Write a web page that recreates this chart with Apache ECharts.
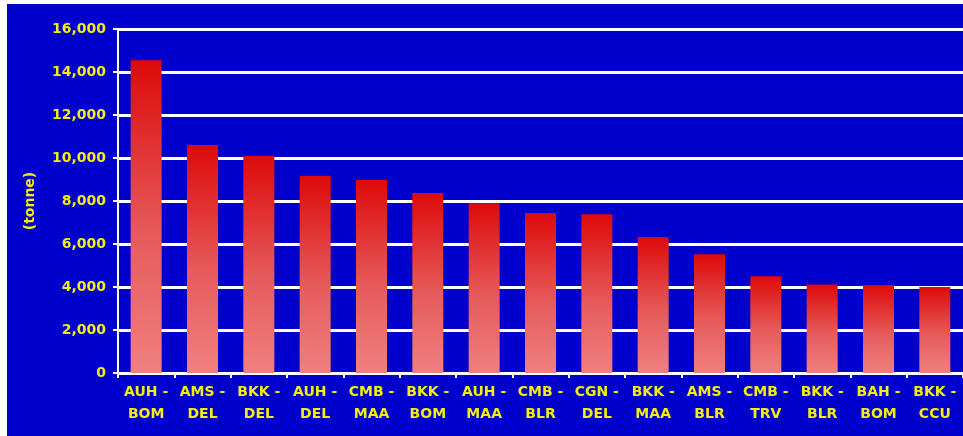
<!DOCTYPE html>
<html>
<head>
<meta charset="utf-8">
<script src="https://cdn.jsdelivr.net/npm/echarts@6/dist/echarts.min.js"></script>
<style>
  html, body { margin: 0; padding: 0; background: #ffffff; }
  #chart { position: absolute; left: 7px; top: 4px; width: 956px; height: 432px; }
</style>
</head>
<body>
<div id="chart"></div>
<script>
// Freight volume by route pair (tonne)
const routes = [
  'AUH -\nBOM', 'AMS -\nDEL', 'BKK -\nDEL', 'AUH -\nDEL', 'CMB -\nMAA',
  'BKK -\nBOM', 'AUH -\nMAA', 'CMB -\nBLR', 'CGN -\nDEL', 'BKK -\nMAA',
  'AMS -\nBLR', 'CMB -\nTRV', 'BKK -\nBLR', 'BAH -\nBOM', 'BKK -\nCCU'
];
const tonnes = [14550, 10600, 10100, 9170, 8980, 8370, 7900, 7440, 7380, 6330, 5520, 4500, 4120, 4090, 4000];
const yTicks = { min: 0, max: 16000, interval: 2000 };
const axisName = '(tonne)';

const labelColor = '#f2ee10';
const fontFamily = 'DejaVu Sans, Verdana, sans-serif';

const chart = echarts.init(document.getElementById('chart'), null, { renderer: 'canvas' });
chart.setOption({
  backgroundColor: '#0000cc',
  animation: false,
  grid: { left: 111, right: 0, top: 25, bottom: 63 },
  xAxis: {
    type: 'category',
    data: routes,
    axisLine: { lineStyle: { color: '#ffffff', width: 2 } },
    axisTick: { show: true, length: 5, lineStyle: { color: '#ffffff', width: 2 } },
    axisLabel: {
      color: labelColor, fontFamily, fontWeight: 'bold', fontSize: 14,
      lineHeight: 22, margin: 8, interval: 0
    },
    splitLine: { show: false }
  },
  yAxis: {
    type: 'value',
    min: yTicks.min, max: yTicks.max, interval: yTicks.interval,
    name: axisName,
    nameLocation: 'middle',
    nameGap: 81,
    nameRotate: 90,
    nameTextStyle: { color: labelColor, fontFamily, fontWeight: 'bold', fontSize: 14 },
    axisLine: { show: true, lineStyle: { color: '#ffffff', width: 2 } },
    axisTick: { show: true, length: 5, lineStyle: { color: '#ffffff', width: 2 } },
    axisLabel: {
      color: labelColor, fontFamily, fontWeight: 'bold', fontSize: 14, margin: 12,
      formatter: v => v.toLocaleString('en-US')
    },
    splitLine: { show: true, lineStyle: { color: '#ffffff', width: 3 } }
  },
  series: [{
    type: 'bar',
    data: tonnes,
    barWidth: 31,
    itemStyle: {
      color: new echarts.graphic.LinearGradient(0, 0, 0, 1, [
        { offset: 0, color: '#dd0a0a' },
        { offset: 0.55, color: '#e65a5a' },
        { offset: 1, color: '#f08080' }
      ])
    }
  }]
});
</script>
</body>
</html>
